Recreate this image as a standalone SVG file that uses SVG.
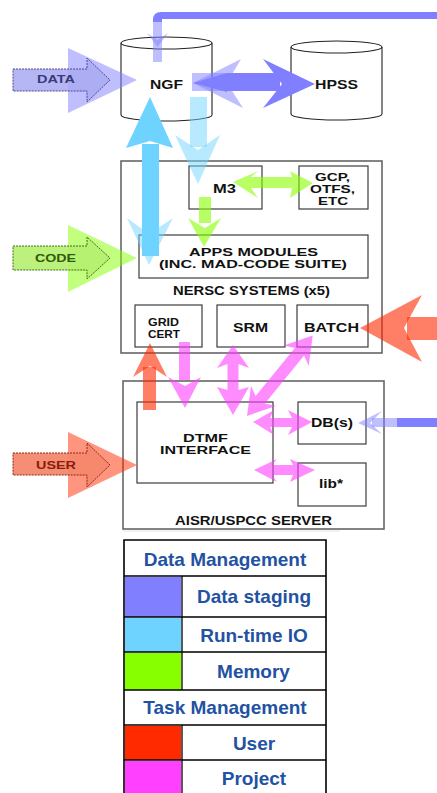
<svg xmlns="http://www.w3.org/2000/svg" width="437" height="793" viewBox="0 0 437 793">
  <style>
    .frame { fill: #fff; stroke: #666; stroke-width: 1.6; }
    .box { fill: #fff; stroke: #3c3c3c; stroke-width: 1.2; }
    .cyl { fill: #fff; stroke: #222; stroke-width: 1.1; }
    .lbl { font-family: "Liberation Sans", Arial, Helvetica, sans-serif; font-weight: bold; font-size: 12px; fill: #111; text-anchor: middle; }
    .big { font-size: 13px; }
    .ml { font-size: 10.6px; }
    .src { font-family: "Liberation Sans", Arial, Helvetica, sans-serif; font-weight: bold; font-size: 10.5px; text-anchor: middle; }
    .leg { font-family: "Liberation Sans", Arial, Helvetica, sans-serif; font-weight: bold; font-size: 19px; fill: #2352a3; text-anchor: middle; }
    .ds { fill: #7f7fff; }
    .io { fill: #6fd3ff; }
    .mem { fill: #88ff00; }
    .usr { fill: #ff2a00; }
    .prj { fill: #ff40ff; }
    .soft { opacity: 0.5; }
    .half { opacity: 0.6; }
    .grid { stroke: #000; stroke-width: 1.6; fill: none; }
  </style>

  <!-- storage -->
  <g id="ngf">
    <path class="cyl" d="M121,43 V115 A45.5,6 0 0 0 212,115 V43"/>
    <ellipse class="cyl" cx="166.5" cy="43" rx="45.5" ry="6"/>
    <text class="lbl big" x="166.5" y="89" textLength="33" lengthAdjust="spacingAndGlyphs">NGF</text>
  </g>
  <g id="hpss">
    <path class="cyl" d="M291,47 V114 A45.5,6 0 0 0 382,114 V47"/>
    <ellipse class="cyl" cx="336.5" cy="47" rx="45.5" ry="6"/>
    <text class="lbl big" x="336.5" y="89" textLength="43" lengthAdjust="spacingAndGlyphs">HPSS</text>
  </g>

  <!-- NERSC systems -->
  <g id="nersc">
    <rect class="frame" x="121" y="161" width="261" height="192"/>
    <text class="lbl" x="251.5" y="295" textLength="157" lengthAdjust="spacingAndGlyphs">NERSC SYSTEMS (x5)</text>
  </g>
  <g id="m3">
    <rect class="box" x="189" y="166" width="73" height="43"/>
    <text class="lbl" x="224.5" y="192.5" textLength="23" lengthAdjust="spacingAndGlyphs">M3</text>
  </g>
  <g id="gcp">
    <rect class="box" x="299" y="166" width="69" height="43"/>
    <text class="lbl ml" x="332.5" y="180.5" textLength="35" lengthAdjust="spacingAndGlyphs">GCP,</text>
    <text class="lbl ml" x="332.5" y="192.8" textLength="45" lengthAdjust="spacingAndGlyphs">OTFS,</text>
    <text class="lbl ml" x="333" y="205" textLength="30" lengthAdjust="spacingAndGlyphs">ETC</text>
  </g>
  <g id="apps">
    <rect class="box" x="139" y="235" width="229" height="43"/>
    <text class="lbl ml" x="253.5" y="256" textLength="129" lengthAdjust="spacingAndGlyphs">APPS MODULES</text>
    <text class="lbl ml" x="253" y="268.3" textLength="188" lengthAdjust="spacingAndGlyphs">(INC. MAD-CODE SUITE)</text>
  </g>
  <g id="gridcert">
    <rect class="box" x="135" y="305" width="67" height="42"/>
    <text class="lbl ml" x="163.5" y="326" textLength="31" lengthAdjust="spacingAndGlyphs">GRID</text>
    <text class="lbl ml" x="164" y="338" textLength="32" lengthAdjust="spacingAndGlyphs">CERT</text>
  </g>
  <g id="srm">
    <rect class="box" x="217" y="305" width="68" height="42"/>
    <text class="lbl" x="250.5" y="331.7" textLength="35" lengthAdjust="spacingAndGlyphs">SRM</text>
  </g>
  <g id="batch">
    <rect class="box" x="297" y="305" width="71" height="42"/>
    <text class="lbl" x="331.5" y="331.7" textLength="55" lengthAdjust="spacingAndGlyphs">BATCH</text>
  </g>

  <!-- AISR/USPCC server -->
  <g id="aisr">
    <rect class="frame" x="123" y="381" width="261" height="148"/>
    <text class="lbl" x="253.5" y="525" textLength="157" lengthAdjust="spacingAndGlyphs">AISR/USPCC SERVER</text>
  </g>
  <g id="dtmf">
    <rect class="box" x="137" y="402" width="136" height="81"/>
    <text class="lbl ml" x="205.5" y="441.7" textLength="45" lengthAdjust="spacingAndGlyphs">DTMF</text>
    <text class="lbl ml" x="205.5" y="454" textLength="91" lengthAdjust="spacingAndGlyphs">INTERFACE</text>
  </g>
  <g id="dbs">
    <rect class="box" x="298" y="402" width="68" height="42"/>
    <text class="lbl" x="332" y="427" textLength="42" lengthAdjust="spacingAndGlyphs">DB(s)</text>
  </g>
  <g id="lib">
    <rect class="box" x="298" y="463" width="68" height="43"/>
    <text class="lbl" x="331" y="488.3" textLength="24" lengthAdjust="spacingAndGlyphs">lib*</text>
  </g>

  <!-- external sources -->
  <g id="src-data">
    <polygon class="ds soft" points="68,48 137,80 68,113"/>
    <path d="M13,69 H87 V58 L110,80 L87,102 V91 H13 Z" fill="#a9a9f2" fill-opacity="0.85" stroke="#4a4a96" stroke-width="1" stroke-dasharray="2 1"/>
    <text class="src" x="56" y="83" fill="#3a3a7a" textLength="38" lengthAdjust="spacingAndGlyphs">DATA</text>
  </g>
  <g id="src-code">
    <polygon class="mem soft" points="68,225 137,258 68,292"/>
    <path d="M13,246 H87 V237 L110,258 L87,279 V270 H13 Z" fill="#b6f070" fill-opacity="0.9" stroke="#3f7010" stroke-width="1" stroke-dasharray="2 1"/>
    <text class="src" x="55.5" y="261.5" fill="#2f5a08" textLength="41" lengthAdjust="spacingAndGlyphs">CODE</text>
  </g>
  <g id="src-user">
    <polygon class="usr soft" points="68,432 137,465 68,498"/>
    <path d="M13,453 H87 V443 L110,465 L87,487 V475 H13 Z" fill="#f5876e" fill-opacity="0.95" stroke="#8a2a10" stroke-width="1" stroke-dasharray="2 1"/>
    <text class="src" x="56" y="468.5" fill="#8a1e08" textLength="40" lengthAdjust="spacingAndGlyphs">USER</text>
  </g>

  <!-- connectors -->
  <g id="connectors">
    <!-- data staging -->
    <path class="ds" d="M437,12 H161 Q153,12 153,20 V22 H162 V19 H437 Z"/>
    <rect class="ds soft" x="153" y="22" width="9" height="40"/>
    <polygon class="ds soft" points="147,33 157.5,40 168,33 157.5,47"/>
    <rect class="ds soft" x="192" y="73" width="35" height="18"/>
    <polygon class="ds soft" points="193,83 241,59 227,83 243,108"/>
    <polygon class="ds" points="193,83 227,73 227,92"/>
    <rect class="ds" x="227" y="73" width="53" height="18"/>
    <polygon class="ds" points="315,84 263,59 282,84 263,108"/>
    <rect class="ds" x="397" y="418" width="40" height="9"/>
    <rect class="ds soft" x="372" y="418" width="25" height="9"/>
    <polygon class="ds soft" points="358,423 382,411 370,423 382,434"/>

    <!-- run-time IO -->
    <polygon class="io" points="150,97 173,148 150,141 126,148"/>
    <rect class="io" x="142" y="144" width="17" height="112"/>
    <polygon class="io soft" points="127,218 149,234 173,218 149,265"/>
    <rect class="io soft" x="190" y="97" width="17" height="50"/>
    <polygon class="io soft" points="175,135 198,150 220,135 198,184"/>

    <!-- memory -->
    <polygon class="mem half" points="233,182 258,171 251,177 292,177 290,171 313,183 290,198 292,188 251,188 258,198"/>
    <rect class="mem half" x="199" y="197" width="12" height="26"/>
    <polygon class="mem half" points="188,218 205,228 221,218 204,247"/>

    <!-- user -->
    <polygon class="usr half" points="360,328 422,295 404,328 422,362"/>
    <rect class="usr half" x="407" y="317" width="30" height="23"/>
    <polygon class="usr half" points="150,343 167,377 150,366 133,377"/>
    <rect class="usr half" x="143" y="367" width="13" height="43"/>

    <!-- project -->
    <rect class="prj half" x="179" y="342" width="11" height="38"/>
    <polygon class="prj half" points="168,377 185,386 201,377 185,408"/>
    <polygon class="prj half" points="233,345 249,368 238.5,364 238.5,390 249,387 233,415 217,387 227.5,390 227.5,364 217,368"/>
    <polygon class="prj half" transform="translate(247,416) rotate(-50.8)" points="0,0 26,-16 21,-6 83,-6 78,-16 104,0 78,16 83,6 21,6 26,16"/>
    <polygon class="prj half" points="253,422 274,410 270,418 292,418 288,410 312,422 288,435 292,427 270,427 274,435"/>
    <polygon class="prj half" points="254,470 277,459 272,465 293,465 290,459 315,470 290,482 293,475 272,475 277,482"/>
  </g>

  <!-- legend -->
  <g id="legend">
    <line x1="123" y1="531" x2="340" y2="531" stroke="#e6e6e6" stroke-width="1"/>
    <rect x="125" y="577" width="56" height="40" class="ds"/>
    <rect x="125" y="618" width="56" height="34" class="io"/>
    <rect x="125" y="653" width="56" height="37" class="mem"/>
    <rect x="125" y="726" width="56" height="34" class="usr"/>
    <rect x="125" y="761" width="56" height="34" class="prj"/>
    <path class="grid" d="M124,795 V540 H326 V795"/>
    <path d="M124,576 H326 M124,617 H326 M124,652 H326 M124,690 H326 M124,725 H326 M124,760 H326 M182,576 V690 M182,725 V795" stroke="#000" stroke-width="1.3" fill="none"/>
    <text class="leg" x="225" y="566">Data Management</text>
    <text class="leg" x="254" y="603">Data staging</text>
    <text class="leg" x="254" y="641.5">Run-time IO</text>
    <text class="leg" x="253.5" y="678">Memory</text>
    <text class="leg" x="225" y="714">Task Management</text>
    <text class="leg" x="254" y="750">User</text>
    <text class="leg" x="254" y="785">Project</text>
  </g>
</svg>
